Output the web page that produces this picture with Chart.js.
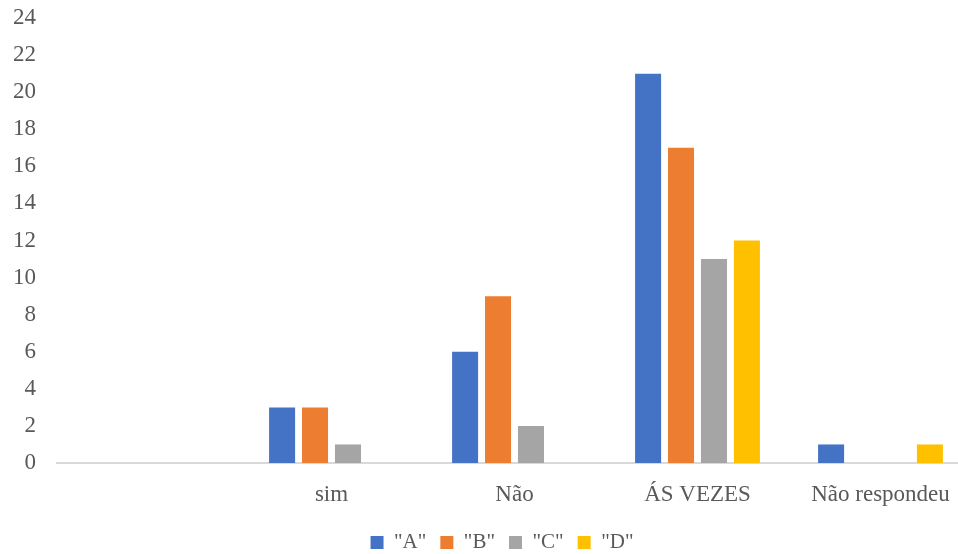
<!DOCTYPE html>
<html>
<head>
<meta charset="utf-8">
<script src="https://cdn.jsdelivr.net/npm/chart.js@4"></script>
<style>
  body { margin: 0; background: #fff; overflow: hidden; }
  #wrap { width: 958px; height: 554px; overflow: hidden; }
</style>
</head>
<body>
<div id="wrap"><canvas id="chart" width="1004" height="554"></canvas></div>
<script>
// categories (first one is blank in the original)
const categories = ['', 'sim', 'Não', 'ÁS VEZES', 'Não respondeu'];
const seriesNames = ['"A"', '"B"', '"C"', '"D"'];
const valuesA = [null, 3, 6, 21, 1];
const valuesB = [null, 3, 9, 17, 0];
const valuesC = [null, 1, 2, 11, 0];
const valuesD = [null, 0, 0, 12, 1];
const colors = ['#4472C4', '#ED7D31', '#A5A5A5', '#FFC000'];

const serif = '"Liberation Serif", "Times New Roman", serif';
const textColor = '#595959';

const allValues = [valuesA, valuesB, valuesC, valuesD];
const datasets = seriesNames.map((name, i) => ({
    label: name,
    data: allValues[i],
    backgroundColor: colors[i],
    borderWidth: 0,
    categoryPercentage: 0.72,
    barPercentage: 0.79
}));

new Chart(document.getElementById('chart'), {
    type: 'bar',
    data: { labels: categories, datasets },
    options: {
        responsive: false,
        animation: false,
        layout: { padding: { top: 18, bottom: -9 } },
        plugins: {
            tooltip: { enabled: false },
            legend: {
                position: 'bottom',
                labels: {
                    font: { family: serif, size: 21 },
                    color: textColor,
                    boxWidth: 13,
                    boxHeight: 13,
                    padding: 14
                }
            }
        },
        scales: {
            x: {
                grid: { display: false },
                border: { color: '#d9d9d9', width: 2 },
                ticks: {
                    font: { family: serif, size: 23 },
                    color: textColor,
                    padding: 10,
                    maxRotation: 0
                },
                afterFit: s => { s.height = 55; }
            },
            y: {
                min: 0,
                max: 24,
                grid: { display: false },
                border: { display: false },
                ticks: {
                    stepSize: 2,
                    font: { family: serif, size: 23 },
                    color: textColor,
                    padding: 13
                },
                afterFit: s => { s.width = 57; s.paddingTop = 0; s.paddingBottom = 0; }
            },
            pad: {
                position: 'right',
                display: true,
                grid: { display: false },
                border: { display: false },
                ticks: { display: false },
                afterFit: s => { s.width = 32; }
            }
        }
    }
});
</script>
</body>
</html>
